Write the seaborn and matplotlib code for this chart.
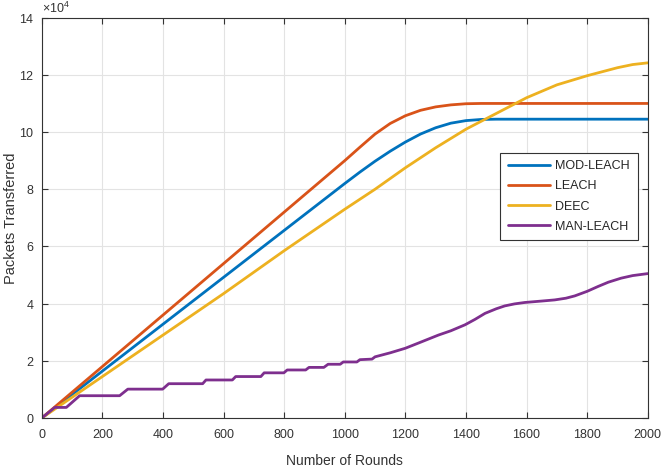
import numpy as np
import pandas as pd
import matplotlib
matplotlib.use("Agg")
import matplotlib.pyplot as plt
import seaborn as sns

# values in units of 1e4 packets
mod_x = [0, 200, 400, 600, 800, 1000, 1050, 1100, 1150, 1200, 1250, 1300, 1350, 1400, 1450, 1500, 2000]
mod_y = [0, 1.64, 3.28, 4.92, 6.56, 8.2, 8.6, 8.98, 9.33, 9.65, 9.93, 10.15, 10.31, 10.4, 10.44, 10.45, 10.45]

leach_x = [0, 200, 400, 600, 800, 1000, 1050, 1100, 1150, 1200, 1250, 1300, 1350, 1400, 1450, 2000]
leach_y = [0, 1.8, 3.6, 5.4, 7.2, 9.0, 9.47, 9.93, 10.3, 10.57, 10.76, 10.88, 10.95, 10.99, 11.0, 11.0]

deec_x = [0, 200, 400, 600, 800, 1000, 1100, 1200, 1300, 1400, 1500, 1600, 1700, 1800, 1900, 1950, 2000]
deec_y = [0, 1.45, 2.9, 4.35, 5.85, 7.3, 8.0, 8.75, 9.45, 10.1, 10.65, 11.2, 11.65, 11.97, 12.25, 12.36, 12.42]

man_x = [0, 43, 81, 125, 257, 284, 399, 419, 531, 542, 629, 640, 723, 734, 799, 810, 871, 882,
         931, 945, 985, 995, 1040, 1050, 1090, 1100, 1150, 1200, 1250, 1309, 1350, 1397, 1430,
         1463, 1500, 1528, 1560, 1594, 1650, 1693, 1730, 1759, 1800, 1836, 1870, 1912, 1950, 2000]
man_y = [0, 0.37, 0.37, 0.78, 0.78, 1.01, 1.01, 1.2, 1.2, 1.33, 1.33, 1.45, 1.45, 1.58, 1.58, 1.68,
         1.68, 1.77, 1.77, 1.88, 1.88, 1.96, 1.96, 2.04, 2.06, 2.14, 2.28, 2.44, 2.65, 2.9, 3.05,
         3.26, 3.45, 3.66, 3.82, 3.92, 3.99, 4.04, 4.09, 4.13, 4.19, 4.27, 4.43, 4.6, 4.75, 4.89,
         4.98, 5.05]

names = ["MOD-LEACH", "LEACH", "DEEC", "MAN-LEACH"]
colors = ["#0072BD", "#D95319", "#EDB120", "#7E2F8E"]

frames = []
for name, xs, ys in zip(names, [mod_x, leach_x, deec_x, man_x], [mod_y, leach_y, deec_y, man_y]):
    frames.append(pd.DataFrame({"rounds": xs, "packets": np.array(ys) * 1e4, "protocol": name}))
df = pd.concat(frames, ignore_index=True)

sns.set_theme(style="whitegrid")
plt.rcParams["font.family"] = ["Liberation Sans", "DejaVu Sans"]
plt.rcParams["mathtext.fontset"] = "custom"
plt.rcParams["mathtext.rm"] = "Liberation Sans"

fig = plt.figure(figsize=(6.63, 4.71), dpi=100)
ax = fig.add_axes([0.063, 0.1125, 0.914, 0.85])

sns.lineplot(data=df, x="rounds", y="packets", hue="protocol", hue_order=names,
             palette=colors, estimator=None, linewidth=2.0, ax=ax)

ax.set_xlim(0, 2000)
ax.set_ylim(0, 140000)
ax.set_xticks(np.arange(0, 2001, 200))
ax.set_yticks(np.arange(0, 140001, 20000))
ax.ticklabel_format(axis="y", style="sci", scilimits=(4, 4), useMathText=True)
ax.yaxis.get_offset_text().set_fontsize(9)
ax.yaxis.get_offset_text().set_color("#333333")

ax.set_facecolor("white")
ax.grid(True, color="#e3e3e3", linewidth=0.8)
for s in ax.spines.values():
    s.set_color("#333333")
    s.set_linewidth(0.8)
ax.tick_params(direction="in", length=4.5, width=0.8, color="#333333",
               top=True, right=True, bottom=True, left=True,
               labelsize=9, labelcolor="#333333")
ax.tick_params(axis="x", pad=8)
ax.tick_params(axis="y", pad=5)

ax.set_xlabel("Number of Rounds", fontsize=10, color="#333333", labelpad=9)
ax.set_ylabel("Packets Transferred", fontsize=10.5, color="#333333")
ax.yaxis.set_label_coords(-0.040, 0.5)

leg = ax.legend(loc="upper left", bbox_to_anchor=(0.757, 0.6625), borderaxespad=0,
                fontsize=9, handlelength=3.4, labelspacing=0.65, handletextpad=0.4,
                fancybox=False, framealpha=1, edgecolor="#333333", borderpad=0.6)
leg.get_frame().set_linewidth(0.8)
for line in leg.get_lines():
    line.set_linewidth(2.0)

fig.savefig("out.png", dpi=100)
